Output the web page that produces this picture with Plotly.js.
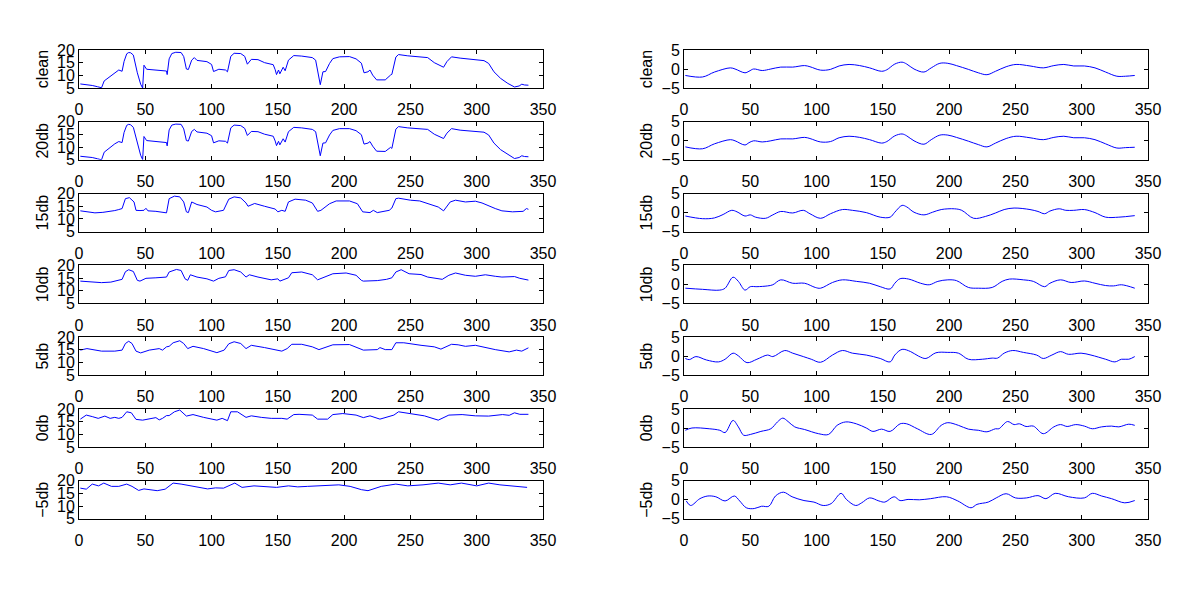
<!DOCTYPE html>
<html>
<head>
<meta charset="utf-8">
<script src="https://cdn.plot.ly/plotly-3.0.1.min.js"></script>
<style>
  html, body { margin: 0; padding: 0; background: #fff; }
  #chart { width: 1200px; height: 600px; }
</style>
</head>
<body>
<div id="chart"></div>
<script>
var rowNames = ['clean', '20db', '15db', '10db', '5db', '0db', '\u22125db'];
var xTicks = [0, 50, 100, 150, 200, 250, 300, 350];
var leftTicks = [5, 10, 15, 20];
var rightTicks = [-5, 0, 5];

// left column
var lCleanX = [1, 5, 10, 14, 17, 19, 23, 27, 30, 32.5, 34, 36, 37.5, 39, 41, 44, 46.5, 48, 49, 51, 58, 66, 66.5, 68, 70, 73, 77, 79, 81, 82.5, 85, 87, 89, 96.5, 100, 101.5, 105.5, 110.5, 112, 114.5, 117, 122, 125, 127, 130, 135, 140, 146.5, 148, 149, 150.5, 151.5, 154, 155.5, 158, 162, 168, 176, 178.5, 180.5, 182, 184, 186, 189, 191.5, 196.5, 204, 209, 213, 215, 218, 219.5, 221.5, 224.5, 231, 235, 236, 239, 241, 248, 257, 263, 268, 275, 277.5, 281, 287.5, 299, 305.5, 309, 313, 318, 323.5, 328.5, 332, 334, 336, 339];
var lCleanY = [6.6, 6.4, 6.0, 5.5, 5.1, 7.8, 9.5, 11.0, 12.1, 11.6, 15.5, 18.5, 19.0, 18.9, 18.0, 11.0, 6.5, 5.0, 14.0, 12.4, 12.1, 11.7, 10.3, 16.5, 18.6, 19.1, 19.0, 17.4, 12.5, 12.3, 16.0, 17.0, 15.9, 15.4, 14.3, 11.5, 12.4, 12.1, 11.4, 17.5, 18.7, 18.6, 17.5, 14.4, 16.3, 16.2, 15.0, 14.2, 12.2, 10.3, 12.1, 10.6, 13.2, 11.8, 16.0, 17.8, 17.6, 17.0, 16.0, 10.8, 6.3, 11.4, 11.5, 14.7, 16.6, 17.3, 17.4, 16.5, 14.8, 11.0, 11.4, 12.1, 10.1, 8.2, 8.2, 10.1, 10.4, 17.2, 18.2, 17.7, 17.4, 17.0, 15.0, 13.2, 15.4, 17.3, 16.8, 16.3, 15.8, 14.7, 11.4, 8.8, 6.8, 5.4, 5.8, 6.5, 6.2, 6.1];

var l20X = [1, 5, 10, 14, 17, 19, 23, 27, 30, 32.5, 34, 36, 37.5, 39, 41, 44, 46.5, 48, 49, 51, 58, 66, 66.5, 68, 70, 73, 77, 79, 81, 82.5, 85, 87, 89, 96.5, 100, 101.5, 105.5, 110.5, 112, 114.5, 117, 122, 125, 127, 130, 135, 140, 146.5, 148, 149, 150.5, 151.5, 154, 155.5, 158, 162, 168, 176, 178.5, 180.5, 182, 184, 186, 189, 191.5, 196.5, 204, 209, 213, 215, 218, 219.5, 221.5, 224.5, 231, 235, 236, 239, 241, 248, 257, 263, 268, 275, 277.5, 281, 287.5, 299, 305.5, 309, 313, 318, 323.5, 328.5, 332, 334, 336, 339];
var l20Y = [6.4, 6.3, 5.9, 5.4, 5.0, 8.0, 9.8, 11.3, 12.2, 11.8, 15.8, 18.6, 19.0, 18.8, 17.8, 11.2, 6.8, 5.1, 14.2, 12.6, 12.2, 11.8, 10.5, 16.8, 18.7, 19.1, 19.0, 17.2, 12.6, 12.4, 16.2, 17.0, 16.0, 15.5, 14.5, 11.7, 12.5, 12.3, 11.6, 17.6, 18.7, 18.5, 17.4, 14.6, 16.2, 16.1, 15.1, 14.3, 12.4, 10.6, 12.3, 10.9, 13.3, 12.0, 16.1, 17.8, 17.6, 17.0, 16.1, 11.0, 6.6, 11.6, 11.7, 14.8, 16.6, 17.3, 17.3, 16.5, 14.9, 11.2, 11.6, 12.2, 10.4, 8.4, 8.3, 9.9, 9.5, 17.1, 18.1, 17.6, 17.4, 17.0, 15.1, 13.4, 15.5, 17.3, 16.7, 16.3, 15.9, 14.8, 11.6, 9.0, 7.0, 5.5, 5.9, 6.6, 6.3, 6.2];

var l15X = [1, 5, 12, 18, 22, 27, 30, 32.5, 35, 38, 41.5, 43, 46, 49, 50.5, 52, 58, 63, 66, 68, 72, 76, 79, 81, 82.5, 85, 89, 96.5, 100, 103, 109, 113, 117, 122, 126, 127.5, 132.5, 140, 148, 150, 153, 155.5, 158, 163, 171, 176, 180, 182.5, 189, 194, 204, 210, 214, 219.5, 222, 225, 234, 236, 239, 241, 250, 257, 263, 271, 275, 280, 284, 291.5, 299, 304, 314, 319, 327, 335, 337.5, 339];
var l15Y = [13.2, 13.0, 12.4, 12.6, 12.8, 13.3, 13.7, 14.1, 18.0, 18.4, 16.7, 13.4, 13.3, 13.4, 14.2, 13.2, 13.0, 12.8, 12.4, 18.0, 19.0, 18.7, 16.7, 12.8, 12.5, 16.7, 15.7, 14.7, 13.4, 12.8, 13.4, 17.8, 18.7, 18.3, 16.3, 15.0, 16.1, 15.0, 13.9, 12.8, 13.4, 13.0, 16.7, 17.8, 17.4, 16.3, 13.0, 13.4, 16.0, 17.1, 17.1, 16.0, 12.8, 12.5, 13.4, 12.5, 13.4, 14.3, 18.0, 18.2, 17.4, 17.1, 16.0, 14.7, 13.2, 16.7, 17.4, 16.7, 17.0, 16.3, 14.1, 13.2, 12.8, 13.0, 14.1, 13.8];

var l10X = [1, 10, 17, 24, 30, 32.5, 35, 37.5, 41, 44, 46, 50.5, 58, 66, 68, 73.5, 77, 80, 82, 84, 89, 96.5, 101.5, 105.5, 110.5, 113, 117, 122, 126, 128.5, 135, 145, 150, 151.5, 158, 160.5, 168, 176, 180, 185, 191.5, 201.5, 209, 213, 214.5, 225, 232, 236, 239, 243, 249, 258, 263, 274, 279, 284, 291.5, 299, 306.5, 314, 319, 328.5, 332.5, 339];
var l10Y = [13.8, 13.6, 13.2, 13.4, 14.0, 14.5, 17.5, 18.3, 17.6, 14.1, 13.8, 14.9, 15.1, 15.4, 17.4, 18.4, 18.0, 14.7, 14.1, 16.3, 15.4, 14.7, 13.8, 14.9, 15.5, 18.0, 18.3, 17.4, 15.4, 16.3, 15.4, 14.3, 14.7, 13.8, 15.1, 17.1, 17.4, 16.3, 14.3, 15.4, 16.7, 17.0, 16.1, 14.1, 13.8, 14.0, 14.5, 15.1, 17.4, 18.3, 16.7, 16.4, 15.4, 14.5, 16.1, 17.0, 16.1, 15.7, 16.3, 15.7, 15.4, 15.6, 14.9, 14.2];

var l5X = [1, 6, 17, 27, 32.5, 35, 37.5, 40, 43, 46.5, 53, 60.5, 63, 66, 68, 71, 76, 79, 82, 86, 94, 100, 104, 109.5, 113, 117, 122, 126, 130, 140, 148, 153, 157, 160.5, 168, 176, 181, 186, 191.5, 204, 209, 214.5, 225, 227, 231, 236, 239, 245, 258, 268, 273, 281, 286, 291.5, 299, 306.5, 314, 324.5, 330, 334, 339];
var l5Y = [14.9, 15.5, 14.5, 14.5, 14.9, 17.5, 18.4, 17.5, 14.5, 13.8, 14.9, 15.5, 14.9, 16.2, 16.4, 17.8, 18.6, 17.5, 15.5, 16.4, 15.5, 14.6, 13.9, 14.9, 17.4, 18.2, 17.5, 15.5, 16.8, 15.9, 14.9, 14.5, 15.5, 17.2, 17.2, 16.2, 15.1, 15.9, 17.0, 17.1, 16.2, 14.9, 15.1, 15.9, 15.1, 15.1, 17.8, 17.8, 16.8, 16.2, 15.3, 17.2, 17.0, 16.4, 16.8, 15.9, 15.1, 14.2, 14.9, 14.5, 15.8];

var l0X = [1, 5.5, 10, 14.5, 19.5, 23.5, 27, 30, 32.5, 36, 39.5, 43, 48, 53, 58, 60.5, 63, 66, 68, 72, 76, 81, 86, 94, 100, 104, 108, 112, 114.5, 119.5, 126, 130, 137.5, 145, 153, 157, 162, 166, 176, 180, 187.5, 191.5, 199, 204, 209, 214.5, 219.5, 227, 232, 237.5, 241, 246.5, 253, 260.5, 271, 279, 289, 299, 309, 319.5, 324.5, 328.5, 332.5, 339];
var l0Y = [16.0, 17.6, 17.0, 16.3, 17.2, 16.3, 16.7, 16.3, 16.7, 18.9, 18.5, 15.9, 15.6, 16.0, 16.6, 15.7, 16.3, 17.4, 17.4, 18.9, 19.6, 17.2, 17.8, 16.7, 16.0, 15.6, 16.3, 15.4, 18.9, 18.9, 16.7, 17.3, 16.7, 16.3, 16.3, 16.0, 17.8, 17.9, 17.6, 16.0, 16.0, 17.8, 18.2, 17.8, 17.6, 16.6, 17.3, 16.0, 16.9, 17.6, 18.9, 18.5, 17.8, 17.3, 15.6, 17.6, 17.8, 17.3, 17.2, 17.8, 17.5, 18.5, 17.9, 17.9];

var lM5X = [1, 5.5, 10, 14.7, 18.7, 24.5, 30, 36, 40, 45, 49, 53.5, 59, 65, 71, 77, 85.5, 91, 97, 103, 109, 117.5, 123, 132, 140.5, 149, 158, 165, 172.5, 184, 196, 204.5, 213, 218, 228, 239, 248, 259.5, 271, 280, 288.5, 300, 309, 317.5, 329, 338];
var lM5Y = [17.1, 16.7, 18.7, 18.0, 19.1, 17.8, 17.8, 18.7, 17.8, 16.2, 16.8, 16.5, 16.1, 16.7, 19.1, 18.7, 17.8, 17.4, 16.8, 17.2, 17.1, 19.1, 17.4, 18.0, 17.8, 17.4, 18.0, 17.6, 17.8, 18.0, 18.4, 17.8, 16.5, 16.1, 17.8, 18.7, 18.0, 18.4, 19.1, 18.4, 19.1, 18.0, 19.1, 18.4, 17.8, 17.4];

// right column
var rCleanX = [1, 14, 23, 35, 38.5, 46, 49, 52.5, 59, 65.5, 73, 82, 91, 95, 103, 110.5, 117, 124.5, 132.5, 140, 149, 153, 159, 164.5, 168, 173.5, 181, 186.5, 193, 199, 205.5, 214.5, 222, 228.5, 235, 243, 250.5, 261, 271, 279, 286.5, 294, 302, 310, 318, 326.5, 333, 340];
var rCleanY = [-1.7, -2.1, -0.8, 0.3, 0.0, -1.0, -0.6, 0.0, -0.4, 0.0, 0.5, 0.5, 0.9, 0.6, -0.3, -0.1, 0.8, 1.2, 0.9, 0.3, -0.6, -0.2, 1.3, 1.8, 1.3, 0.0, -0.8, 0.3, 1.5, 1.5, 0.9, -0.1, -1.0, -1.5, -0.6, 0.6, 1.2, 0.8, 0.3, 0.9, 1.2, 0.8, 0.8, 0.3, -0.8, -1.9, -1.9, -1.7];

var r20X = [1, 14, 23, 35, 38.5, 46, 49, 52.5, 59, 65.5, 73, 82, 91, 95, 103, 110.5, 117, 124.5, 132.5, 140, 149, 153, 159, 164.5, 168, 173.5, 181, 186.5, 193, 199, 205.5, 214.5, 222, 228.5, 235, 243, 250.5, 261, 271, 279, 286.5, 294, 302, 310, 318, 326.5, 333, 340];
var r20Y = [-1.6, -2.1, -0.8, 0.3, 0.0, -1.1, -0.5, 0.0, -0.3, 0.0, 0.5, 0.5, 0.9, 0.6, -0.3, -0.2, 0.8, 1.2, 0.9, 0.3, -0.6, -0.2, 1.3, 1.8, 1.3, 0.0, -0.9, 0.3, 1.5, 1.5, 0.9, -0.1, -1.0, -1.6, -0.6, 0.6, 1.2, 0.8, 0.3, 0.9, 1.2, 0.8, 0.8, 0.3, -0.8, -1.9, -1.8, -1.7];

var r15X = [1, 14, 23, 29.5, 36, 40, 46, 50, 54, 61.5, 67, 73, 82, 90, 95, 103, 110.5, 119.5, 127, 137.5, 148, 155.5, 159, 164.5, 168, 173.5, 181, 187.5, 194, 204, 209.5, 218.5, 227.5, 235, 241.5, 249, 261, 267, 272, 276, 283, 288, 294, 302, 310, 318, 328, 340];
var r15Y = [-0.9, -1.6, -1.4, -0.5, 0.6, 0.2, -0.9, -0.6, -1.2, -1.5, -0.6, 0.3, -0.1, 0.6, -0.3, -1.5, -0.3, 0.8, 0.6, 0.0, -1.2, -1.2, 0.1, 1.9, 1.5, 0.1, -0.6, 0.1, 0.8, 1.0, 0.6, -1.5, -1.0, -0.1, 0.8, 1.2, 0.8, 0.3, -0.3, 0.4, 1.0, 0.6, 0.6, 0.8, 0.0, -1.2, -1.2, -0.8];

var r10X = [1, 14, 27, 31, 37, 41, 46, 50, 55, 63, 67, 73, 82, 91, 99, 103, 112, 119.5, 130, 140, 148, 155.5, 159, 163, 169.5, 178.5, 185, 191.5, 199, 205.5, 214.5, 222, 232.5, 240, 245.5, 256, 263.5, 272, 276, 284, 292, 302, 310, 318, 324, 330, 340];
var r10Y = [-1.0, -1.3, -1.5, -1.0, 1.9, 0.8, -1.5, -0.6, -0.6, -0.4, -0.1, 1.2, 0.3, 0.3, -0.8, -1.0, 0.5, 1.2, 0.8, 0.3, -0.6, -1.2, 0.3, 1.5, 1.4, 0.3, -0.1, 0.8, 1.2, 1.0, -0.8, -1.0, -0.8, 0.8, 1.4, 1.2, 0.8, -0.6, 0.3, 1.2, 0.5, 0.9, 0.3, -0.3, -0.4, -0.1, -1.0];

var r5X = [1, 4, 9, 17, 26, 31, 37, 41, 47.5, 55, 63, 67, 76, 82, 90, 96, 103, 112, 119.5, 127, 137.5, 148, 155.5, 159, 164.5, 171, 177, 182.5, 190, 199, 207, 214.5, 225, 232.5, 236.5, 241.5, 248, 256, 266, 271, 277.5, 284, 290, 299.5, 307, 318, 325, 330, 335.5, 340];
var r5Y = [-0.6, -0.9, -0.1, -1.0, -1.5, -0.8, 0.8, 0.1, -1.7, -0.8, 0.3, -0.1, 1.5, 0.8, -0.1, -0.8, -1.6, 0.3, 1.5, 0.8, 0.3, -0.6, -1.5, 0.3, 1.8, 1.2, 0.0, -0.6, 0.9, 1.0, 0.8, -0.8, -0.8, -0.5, -0.5, 0.8, 1.5, 1.0, 0.3, -0.6, 0.3, 1.2, 0.5, 0.8, 0.3, -0.8, -1.5, -0.8, -0.8, -0.1];

var r0X = [1, 6, 19, 27, 31, 37, 41, 45, 50, 58, 65.5, 70.5, 74.5, 78.5, 83.5, 91, 101.5, 109, 115.5, 122, 130, 137.5, 142.5, 149, 155.5, 163, 168, 176, 186.5, 194, 199, 207, 214.5, 222, 228.5, 235, 237.5, 244, 249, 253, 258, 263.5, 271, 279, 284, 289, 295.5, 302, 308, 315, 322.5, 328, 335.5, 340];
var r0Y = [-0.6, 0.0, -0.2, -0.6, -1.2, 2.0, 0.3, -1.9, -1.7, -0.9, -0.2, 1.6, 2.6, 1.7, 0.3, -0.4, -1.5, -1.7, 0.7, 1.6, 1.1, 0.0, -0.9, -0.3, -0.9, 1.1, 1.1, -0.2, -1.7, 0.7, 1.4, 0.7, -0.3, -0.6, -1.0, -0.2, -0.2, 1.7, 0.9, 1.1, 0.4, 0.5, -1.5, 0.3, 0.9, 0.4, 0.9, 0.5, -0.2, 0.3, 0.5, 0.3, 1.0, 0.7];

var rM5X = [1.7, 5, 12, 18, 24, 31, 38, 42, 47, 53, 58.5, 64, 69, 75, 81.5, 90.5, 98, 105, 111, 118.5, 122.5, 129.5, 134, 140, 147, 151.5, 158.5, 163, 169, 177.5, 186, 198, 206.5, 216.5, 221, 229.5, 235.5, 243, 250, 258.5, 267, 273, 280, 290, 302, 308, 315, 322.5, 332.5, 340];
var rM5Y = [-0.3, -1.5, 0.3, 1.0, 0.8, -0.3, 1.0, -0.3, -2.1, -2.3, -1.7, -1.7, 1.0, 2.0, 0.8, -0.2, -0.6, -1.5, -1.0, 1.7, 0.1, -1.5, -0.8, 0.5, -0.3, -0.6, 0.8, -0.2, 0.1, 0.0, 0.3, 0.8, -0.3, -2.1, -1.2, -0.6, 0.5, 1.6, 0.5, 0.5, 1.1, 0.3, 1.7, 0.8, 0.5, 1.7, 1.0, 0.3, -0.8, -0.2];

var leftSeries = [[lCleanX, lCleanY], [l20X, l20Y], [l15X, l15Y], [l10X, l10Y], [l5X, l5Y], [l0X, l0Y], [lM5X, lM5Y]];
var rightSeries = [[rCleanX, rCleanY], [r20X, r20Y], [r15X, r15Y], [r10X, r10Y], [r5X, r5Y], [r0X, r0Y], [rM5X, rM5Y]];

var FONT = 'Liberation Sans Narrow, Liberation Sans, Arial, sans-serif';
var H = 600, W = 1200;

function axisBase() {
  return {
    showline: true, linecolor: '#000', linewidth: 1, mirror: 'allticks',
    ticks: 'inside', ticklen: 4, tickcolor: '#000', tickwidth: 1,
    showgrid: false, zeroline: false, fixedrange: true,
    tickfont: { family: FONT, size: 16, color: '#000' }
  };
}

var traces = [];
var layout = {
  width: W, height: H,
  paper_bgcolor: '#fff', plot_bgcolor: '#fff',
  margin: { t: 0, r: 0, b: 0, l: 0 },
  showlegend: false,
  font: { family: FONT, color: '#000' }
};

for (var col = 0; col < 2; col++) {
  var series = col === 0 ? leftSeries : rightSeries;
  var xd = col === 0 ? [79 / W, 543 / W] : [684 / W, 1148 / W];
  for (var r = 0; r < 7; r++) {
    var n = col * 7 + r + 1;
    var id = n > 1 ? String(n) : '';
    var rowTop = 50 + 71.8 * r;
    var rowBot = rowTop + 38;
    var xa = Object.assign(axisBase(), {
      domain: xd, range: [0, 350], tickvals: xTicks,
      anchor: 'y' + id, ticklabelstandoff: 7
    });
    var ya = Object.assign(axisBase(), {
      domain: [1 - rowBot / H, 1 - rowTop / H],
      range: col === 0 ? [5, 20] : [-5, 5],
      tickvals: col === 0 ? leftTicks : rightTicks,
      anchor: 'x' + id,
      title: { text: rowNames[r], font: { family: FONT, size: 16, color: '#000' }, standoff: 4 }
    });
    layout['xaxis' + id] = xa;
    layout['yaxis' + id] = ya;
    traces.push({
      x: series[r][0], y: series[r][1],
      xaxis: 'x' + id, yaxis: 'y' + id,
      type: 'scatter', mode: 'lines',
      line: { color: '#0000ff', width: 1, shape: col === 1 ? 'spline' : 'linear' },
      hoverinfo: 'skip'
    });
  }
}

Plotly.newPlot('chart', traces, layout, { displayModeBar: false, staticPlot: true });
</script>
</body>
</html>
